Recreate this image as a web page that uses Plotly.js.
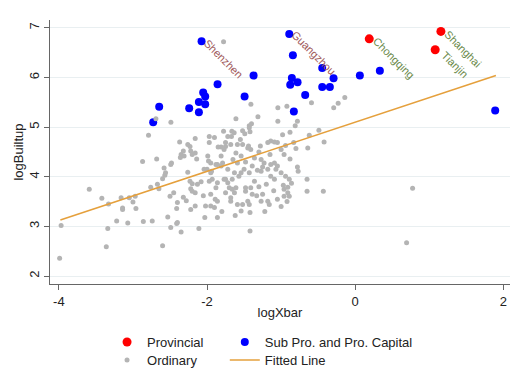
<!DOCTYPE html>
<html>
<head>
<meta charset="utf-8">
<script src="https://cdn.plot.ly/plotly-3.0.1.min.js"></script>
<style>html,body{margin:0;padding:0;background:#fff;}#chart{width:515px;height:388px;}</style>
</head>
<body>
<div id="chart"></div>
<script>
// Provincial-level cities
const provNames = ['Chongqing', 'Shanghai', 'Tianjin'];
const provX = [0.19, 1.157, 1.08];
const provY = [6.78, 6.93, 6.56];

// Sub-provincial and provincial capitals
const capNames = ['Shenzhen', 'Guangzhou', '', '', '', '', '', '', '', '', '', '', '', '', '', '', '', '', '', '', '', '', '', '', '', ''];
const capX = [-2.074, -0.89, -1.372, -1.858, -2.052, -2.025, -2.11, -2.025, -2.11, -2.241, -2.646, -2.727, -1.493,
  -0.841, -0.855, -0.778, -0.877, -0.675, -0.828, -0.445, -0.292, -0.445, -0.342, 0.063, 0.333, 1.89];
const capY = [6.73, 6.88, 6.04, 5.865, 5.70, 5.62, 5.51, 5.46, 5.30, 5.38, 5.41, 5.10, 5.62,
  6.45, 5.99, 5.905, 5.853, 5.65, 5.316, 6.195, 5.986, 5.81, 5.81, 6.04, 6.135, 5.336];

// Ordinary cities
const ordX = [-1.777,-1.408,-2.69,-2.488,-2.79,-1.61,-1.313,-1.044,-0.922,-1.044,-1.43,-1.40,-1.43,-1.777,-1.665,-1.634,-1.52,-1.49,-1.42,-1.72,-1.67,-1.97,-2.16,-2.37,-2.26,-2.23,-1.81,-1.75,-1.52,-1.44,-1.14,-1.09,-0.88,
  -2.87,-2.68,-3.59,-3.42,-3.33,-3.16,-3.14,-3.14,-3.05,-3.00,-2.97,-2.96,-3.22,-3.07,-3.34,-3.36,-3.97,-3.99,-2.86,-2.74,-2.76,-2.65,-2.67,-2.60,-2.57,-2.56,-2.48,-2.50,-2.45,-2.41,-2.53,-2.49,-2.41,-2.35,-2.60,
  -2.35,-2.36,-2.32,-2.31,-2.26,-2.16,-2.14,-2.23,-2.20,-2.32,-2.28,-2.22,-2.16,-2.16,-2.22,-2.11,-2.03,
  -1.99,-1.98,-1.95,-2.00,-1.94,-1.90,-1.93,-1.86,-1.88,-1.95,-1.89,-1.95,-1.90,-1.86,
  -1.81,-1.79,-1.77,-1.75,-1.72,-1.70,-1.66,-1.75,-1.68,-1.63,-1.68,-1.59,-1.54,-1.42,-1.42,
  -1.61,-1.54,-1.59,-1.75,-1.68,-1.59,-1.50,-1.43,-1.41,-1.48,-1.39,-1.45,-1.43,-1.52,
  -1.36,-1.27,-1.18,-1.14,-1.09,-1.25,-1.27,-1.18,-1.16,-1.09,-1.05,-1.00,-0.94,-0.89,-0.96,-0.91,-0.96,-0.89,
  -1.18,-1.05,-1.00,-0.96,-1.36,-1.27,-1.23,-1.45,-1.41,
  -0.62,-0.49,-0.42,-0.83,-0.80,-0.94,-0.88,-0.64,-0.78,-0.77,-0.65,-0.97,-0.91,-0.86,-0.65,-0.43,0.775,0.694,
  -0.59,-0.29,-0.23,-0.14,-0.78,-0.81,
  -1.54,-1.57,-1.61,-1.48,-1.14,
  -1.97,-2.22,-2.20,-2.49,-2.58,-1.88,-1.81,
  -2.02,-1.86,-1.66,-2.20,-2.40,-2.13,-1.97,-1.77,-1.63,-1.95,-2.04,-1.86,-1.72,-2.40,
  -1.32,-1.25,-1.39,-1.07,-1.30,-1.20,-1.10,-1.33,-1.05,-1.22,-1.00,-0.92,
  -1.30,-1.15,-1.48,-1.65,-1.85,-1.55,-1.28,-0.98,-1.62,-1.80,-2.05,-2.08];
const ordY = [6.72,5.46,5.17,5.10,4.84,5.17,5.21,5.39,5.42,5.12,5.03,5.07,4.99,4.92,4.92,4.89,4.93,4.87,4.91,4.81,4.81,4.81,4.77,4.70,4.65,4.61,4.60,4.61,4.65,4.62,4.72,4.70,4.90,
  4.31,4.36,3.75,3.57,3.45,3.58,3.37,3.34,3.58,3.49,3.61,3.36,3.11,3.07,2.96,2.59,3.02,2.36,3.10,3.11,3.79,3.76,3.85,3.96,4.03,4.08,4.28,3.61,3.68,3.36,3.19,2.98,3.06,2.89,2.61,
  4.45,4.39,4.52,4.42,4.09,4.48,4.36,3.91,3.86,3.59,3.52,3.76,3.68,3.41,3.34,2.96,3.18,
  4.42,4.32,4.28,4.15,4.11,4.79,3.95,3.88,3.78,3.65,3.55,3.41,3.38,3.18,
  4.42,4.28,4.55,3.95,3.88,3.78,3.95,3.68,3.58,3.68,3.51,3.44,3.31,3.28,2.91,
  4.48,4.42,4.28,4.69,4.65,4.65,4.15,4.08,3.78,3.71,3.65,3.51,3.44,3.44,
  3.91,4.11,4.15,4.01,3.95,3.65,3.51,3.51,3.44,4.28,4.22,4.08,4.01,3.95,3.75,3.68,3.61,3.61,
  4.69,4.69,4.55,4.45,4.38,4.35,4.28,4.58,4.55,
  4.84,4.94,4.70,4.69,4.57,4.63,4.36,4.58,4.20,4.11,3.95,3.83,3.79,3.87,3.71,3.71,3.77,2.67,
  5.49,5.39,5.48,5.60,5.12,5.03,
  4.08,4.01,3.78,3.78,4.25,
  4.69,4.52,4.45,4.25,4.18,4.25,4.22,
  3.41,3.51,3.75,3.71,3.48,3.85,3.91,3.95,4.08,4.08,4.15,4.25,4.15,3.08,
  4.13,4.20,4.22,4.15,3.80,3.85,3.72,3.62,3.55,3.30,3.40,3.50,
  4.50,4.45,4.30,4.35,4.60,4.75,4.62,4.85,3.22,3.30,3.62,3.90];

// Fitted line (end points of the linear fit)
const fitX = [-3.98, 1.90];
const fitY = [3.13, 6.04];

const FONT = 'Liberation Sans, Arial, Helvetica, sans-serif';

const traces = [
  {x: provX, y: provY, type: 'scatter', mode: 'markers', name: 'Provincial',
   marker: {color: '#ff0000', size: 9}, legend: 'legend'},
  {x: capX, y: capY, type: 'scatter', mode: 'markers', name: 'Sub Pro. and Pro. Capital',
   marker: {color: '#0000ff', size: 8}, legend: 'legend2'},
  {x: ordX, y: ordY, type: 'scatter', mode: 'markers', name: 'Ordinary',
   marker: {color: '#b4b4b4', size: 5}, legend: 'legend3'},
  {x: fitX, y: fitY, type: 'scatter', mode: 'lines', name: 'Fitted Line',
   line: {color: '#e5a03c', width: 1.5}, legend: 'legend4'}
];

const annotations = [];
const labelLen = t => t.length * 6.1;
function addLabel(x, y, t, color) {
  if (!t) return;
  const L = labelLen(t);
  annotations.push({x: x, y: y, xref: 'x', yref: 'y', text: t, showarrow: false,
    textangle: 45, font: {family: FONT, size: 11, color: color},
    xshift: 5 + 0.354 * L, yshift: -0.354 * L});
}
capNames.forEach((t, i) => addLabel(capX[i], capY[i], t, '#a05a5c'));
provNames.forEach((t, i) => addLabel(provX[i], provY[i], t, '#6b8a4a'));

const legendCommon = {orientation: 'v', yanchor: 'top', xanchor: 'left',
  font: {size: 13, color: '#222'}, bgcolor: 'rgba(0,0,0,0)'};
const row1 = -0.163, row2 = -0.231, col1 = 0.124, col2 = 0.380;

const layout = {
  width: 515, height: 388,
  margin: {l: 50, r: 5, t: 20, b: 104},
  paper_bgcolor: '#ffffff', plot_bgcolor: '#ffffff',
  font: {family: FONT, size: 12, color: '#222'},
  showlegend: true,
  xaxis: {range: [-4.12, 2.09], tickvals: [-4, -2, 0, 2], ticktext: ['-4', '-2', '0', '2'],
    showgrid: false, zeroline: false, showline: true, linecolor: '#666', linewidth: 1,
    ticks: 'outside', ticklen: 5, tickcolor: '#666', tickfont: {size: 13, color: '#222'},
    title: {text: 'logXbar', font: {size: 13, color: '#222'}, standoff: 0}},
  yaxis: {range: [1.84, 7.16], tickvals: [2, 3, 4, 5, 6, 7], ticktext: ['2', '3', '4', '5', '6', '7'],
    showgrid: true, gridcolor: '#e9eff1', gridwidth: 1, zeroline: false,
    showline: true, linecolor: '#666', linewidth: 1, ticks: 'outside', ticklen: 5, tickcolor: '#666',
    tickangle: -90, tickfont: {size: 13, color: '#222'},
    title: {text: 'logBuiltup', font: {size: 13, color: '#222'}, standoff: 0}},
  legend: Object.assign({}, legendCommon, {x: col1, y: row1}),
  legend2: Object.assign({}, legendCommon, {x: col2, y: row1}),
  legend3: Object.assign({}, legendCommon, {x: col1, y: row2}),
  legend4: Object.assign({}, legendCommon, {x: col2, y: row2}),
  annotations: annotations
};

Plotly.newPlot('chart', traces, layout, {displayModeBar: false, staticPlot: true});
</script>
</body>
</html>
